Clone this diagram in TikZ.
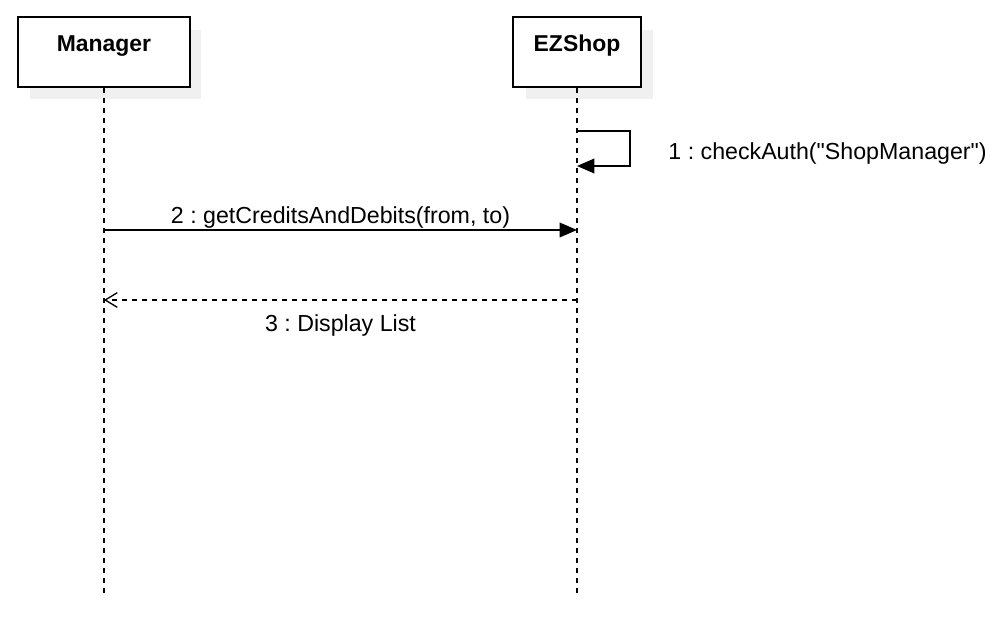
\documentclass[tikz,border=0pt]{standalone}
\usepackage{fontspec}
\setmainfont{Liberation Sans}
\usetikzlibrary{arrows.meta,positioning}
\definecolor{shadowgray}{RGB}{240,240,240}
\frenchspacing

\begin{document}
\begin{tikzpicture}[x=0.75pt,y=-0.75pt,
        font=\fontsize{17.4}{20}\selectfont]
    \useasboundingbox (0,0) rectangle (1000,617);

    % shadows behind the boxes
    \fill[shadowgray] (30,30) rectangle (201,99);
    \fill[shadowgray] (526,30) rectangle (653,99);

    \begin{scope}[every node/.style={rectangle,draw=black,line width=1.5pt,fill=white,
                minimum height=52.5pt,text height=12pt,text depth=12pt,
                font=\fontsize{17.2}{20}\selectfont\bfseries}]
        \node[minimum width=129pt] (manager) at (104,52) {Manager};
        \node[minimum width=96pt] (ezshop) at (577,52) {EZShop};
    \end{scope}

    \coordinate (manager end) at (104,593);
    \coordinate (ezshop end) at (577,593);

    \coordinate (m1 start) at (577,131);
    \coordinate (m1 end) at (577,166);
    \coordinate (m2 start) at (104,230);
    \coordinate (m2 end) at (577,230);
    \coordinate (m3 start) at (577,300);
    \coordinate (m3 end) at (104,300);

    \begin{scope}[every edge/.style={draw=black,line width=1pt}]
        \path [-, dash pattern=on 3.75pt off 3.75pt] (manager) edge (manager end);
        \path [-, dash pattern=on 3.75pt off 3.75pt] (ezshop) edge (ezshop end);

        \path [-{Triangle[length=13pt,width=11pt]}] (m2 start) edge
            node[midway,above,inner sep=0.5pt] {2 : getCreditsAndDebits(from, to)} (m2 end);
        \path [-{Straight Barb[length=9pt,width=11pt]}, dash pattern=on 3.75pt off 3.75pt]
            (m3 start) edge node[midway,below=7pt] {3 : Display List} (m3 end);
    \end{scope}

    \draw [line width=1pt,-{Triangle[length=13pt,width=11pt]}] (m1 start) -- ++(53,0)
        |- node[pos=0.25,right=25pt,yshift=-4pt] {1 : checkAuth(\textquotedbl ShopManager\textquotedbl)} (m1 end);
\end{tikzpicture}
\end{document}
